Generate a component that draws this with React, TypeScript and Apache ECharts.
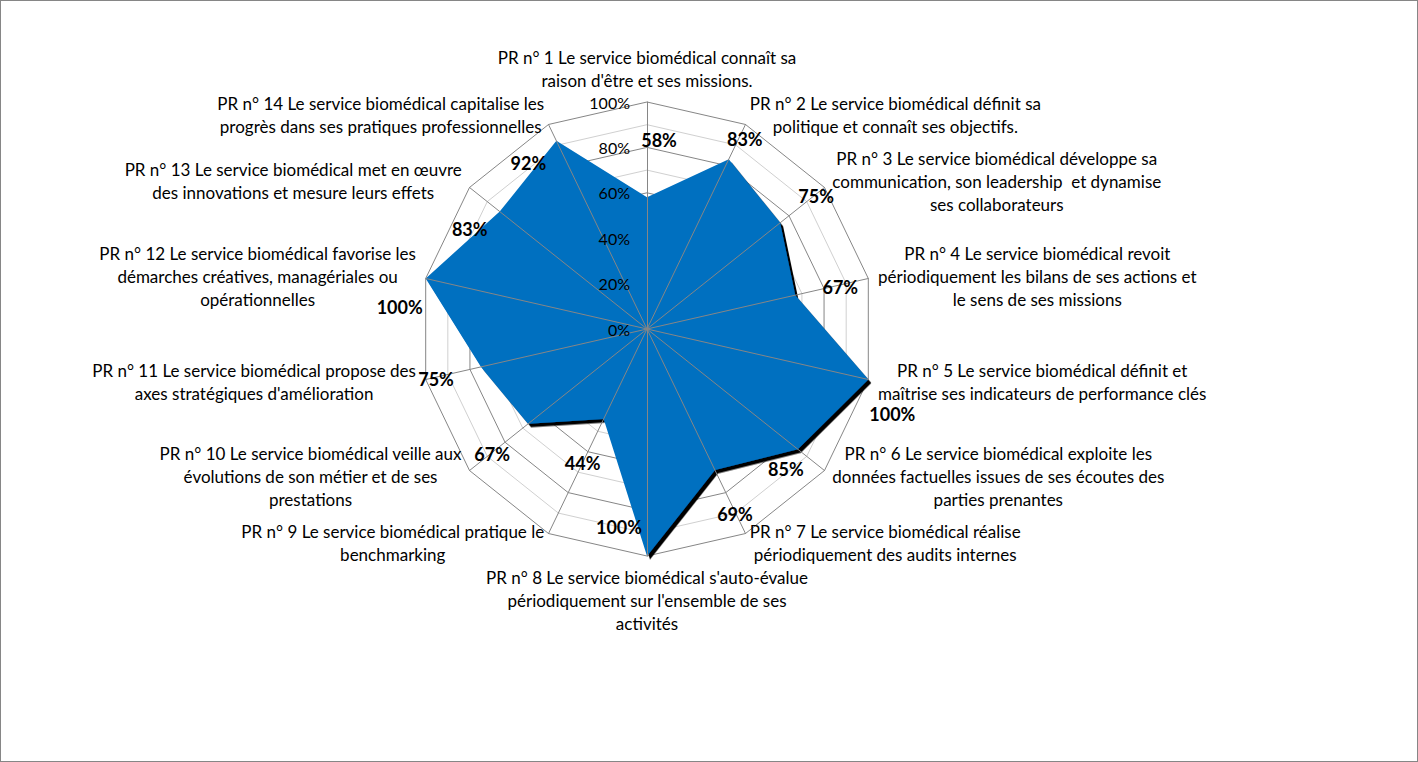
import React, { useEffect, useRef } from "react";
import * as echarts from "echarts";

// ---- data (original order, clockwise from top) ----
const categories: string[] = [
  "PR n° 1 Le service biomédical connaît sa\nraison d'être et ses missions.",
  "PR n° 2 Le service biomédical définit sa\npolitique et connaît ses objectifs.",
  "PR n° 3 Le service biomédical développe sa\ncommunication, son leadership  et dynamise\nses collaborateurs",
  "PR n° 4 Le service biomédical revoit\npériodiquement les bilans de ses actions et\nle sens de ses missions",
  "PR n° 5 Le service biomédical définit et\nmaîtrise ses indicateurs de performance clés",
  "PR n° 6 Le service biomédical exploite les\ndonnées factuelles issues de ses écoutes des\nparties prenantes",
  "PR n° 7 Le service biomédical réalise\npériodiquement des audits internes",
  "PR n° 8 Le service biomédical s'auto-évalue\npériodiquement sur l'ensemble de ses\nactivités",
  "PR n° 9 Le service biomédical pratique le\nbenchmarking",
  "PR n° 10 Le service biomédical veille aux\névolutions de son métier et de ses\nprestations",
  "PR n° 11 Le service biomédical propose des\naxes stratégiques d'amélioration",
  "PR n° 12 Le service biomédical favorise les\ndémarches créatives, managériales ou\nopérationnelles",
  "PR n° 13 Le service biomédical met en œuvre\ndes innovations et mesure leurs effets",
  "PR n° 14 Le service biomédical capitalise les\nprogrès dans ses pratiques professionnelles",
];
const values: number[] = [58, 83, 75, 67, 100, 85, 69, 100, 44, 67, 75, 100, 83, 92];
const axisMin = 0;
const axisMax = 100;
const tickStep = 10;
const labelStep = 20;

// label offsets (layout only), in original order
const labelOffsets: [number, number][] = [
  [12, -57], [16, -20], [36, -27], [45, -8], [24, 34], [-12, 20], [20, 44],
  [-28, -29], [-21, 44], [-36, 30], [-45, 12], [-26, 29], [-30, 17], [-28, 22],
];

const FONT = "Lato, 'Open Sans', sans-serif";

export default function App() {
  const ref = useRef<HTMLDivElement>(null);
  useEffect(() => {
    document.body.style.margin = "0";
    if (!ref.current) return;
    const chart = echarts.init(ref.current, undefined, { renderer: "svg" });
    const n = categories.length;
    // ECharts radar goes counter-clockwise: reorder to display clockwise
    const order = [0, ...Array.from({ length: n - 1 }, (_, i) => n - 1 - i)];
    const posOf: number[] = [];
    order.forEach((orig, pos) => (posOf[orig] = pos));
    const orderedValues = order.map((i) => values[i]);
    const center = [646, 328];
    const radius = 227;
    const splitNumber = (axisMax - axisMin) / tickStep;

    chart.setOption({
      animation: false,
      backgroundColor: "#ffffff",
      radar: [
        {
          center,
          radius,
          startAngle: 90,
          shape: "polygon",
          splitNumber,
          indicator: order.map((i) => ({ name: categories[i], min: axisMin, max: axisMax })),
          nameGap: 10,
          axisName: {
            color: "#000",
            fontFamily: FONT,
            fontSize: 17,
            lineHeight: 23,
            formatter: (name: string) =>
              name
                .split("\n")
                .map((l) => "{c|" + l + "}")
                .join("\n"),
            rich: {
              c: { align: "center", color: "#000", fontFamily: FONT, fontSize: 17, lineHeight: 23 },
            },
          },
          axisLine: { show: false },
          axisTick: { show: false },
          axisLabel: { show: false },
          splitLine: { lineStyle: { color: ["#868686", "#d0d0d0"], width: 1 } },
          splitArea: { show: false },
        },
        {
          center,
          radius,
          startAngle: 90,
          shape: "polygon",
          splitNumber,
          z: 3,
          indicator: order.map((_, pos) => ({
            name: "",
            min: axisMin,
            max: axisMax,
            ...(pos === 0 ? {} : { axisLabel: { show: false } }),
          })),
          axisName: { show: false },
          axisLine: { show: true, lineStyle: { color: "#868686", width: 1 } },
          axisTick: { show: false },
          axisLabel: {
            show: true,
            color: "#000",
            fontFamily: FONT,
            fontSize: 16,
            margin: 17,
            formatter: (v: number) =>
              Math.round(v) % labelStep === 0 ? Math.round(v) + "%" : "",
          },
          splitLine: { show: false },
          splitArea: { show: false },
        },
      ],
      series: [
        {
          type: "radar",
          radarIndex: 0,
          symbol: "none",
          lineStyle: { opacity: 0, width: 0 },
          areaStyle: {
            color: "#0070C0",
            opacity: 1,
            shadowColor: "#000",
            shadowBlur: 0,
            shadowOffsetX: 3,
            shadowOffsetY: 3.5,
          },
          data: [{ value: orderedValues, name: "Score" }],
        },
        {
          type: "radar",
          radarIndex: 0,
          z: 5,
          symbol: "circle",
          symbolSize: 1,
          itemStyle: { color: "transparent", opacity: 0 },
          lineStyle: { opacity: 0, width: 0 },
          data: values.map((_, k) => ({
            value: orderedValues,
            name: "L" + k,
            label: {
              show: true,
              position: "inside",
              offset: labelOffsets[k],
              color: "#000",
              opacity: 1,
              fontFamily: FONT,
              fontWeight: "bold",
              fontSize: 18,
              formatter: (p: any) => (p.dimensionIndex === posOf[k] ? values[k] + "%" : ""),
            },
          })),
        },
      ],
    });
    return () => chart.dispose();
  }, []);
  return (
    <div
      ref={ref}
      style={{
        width: 1418,
        height: 762,
        border: "1px solid #868686",
        boxSizing: "border-box",
        background: "#fff",
      }}
    />
  );
}
